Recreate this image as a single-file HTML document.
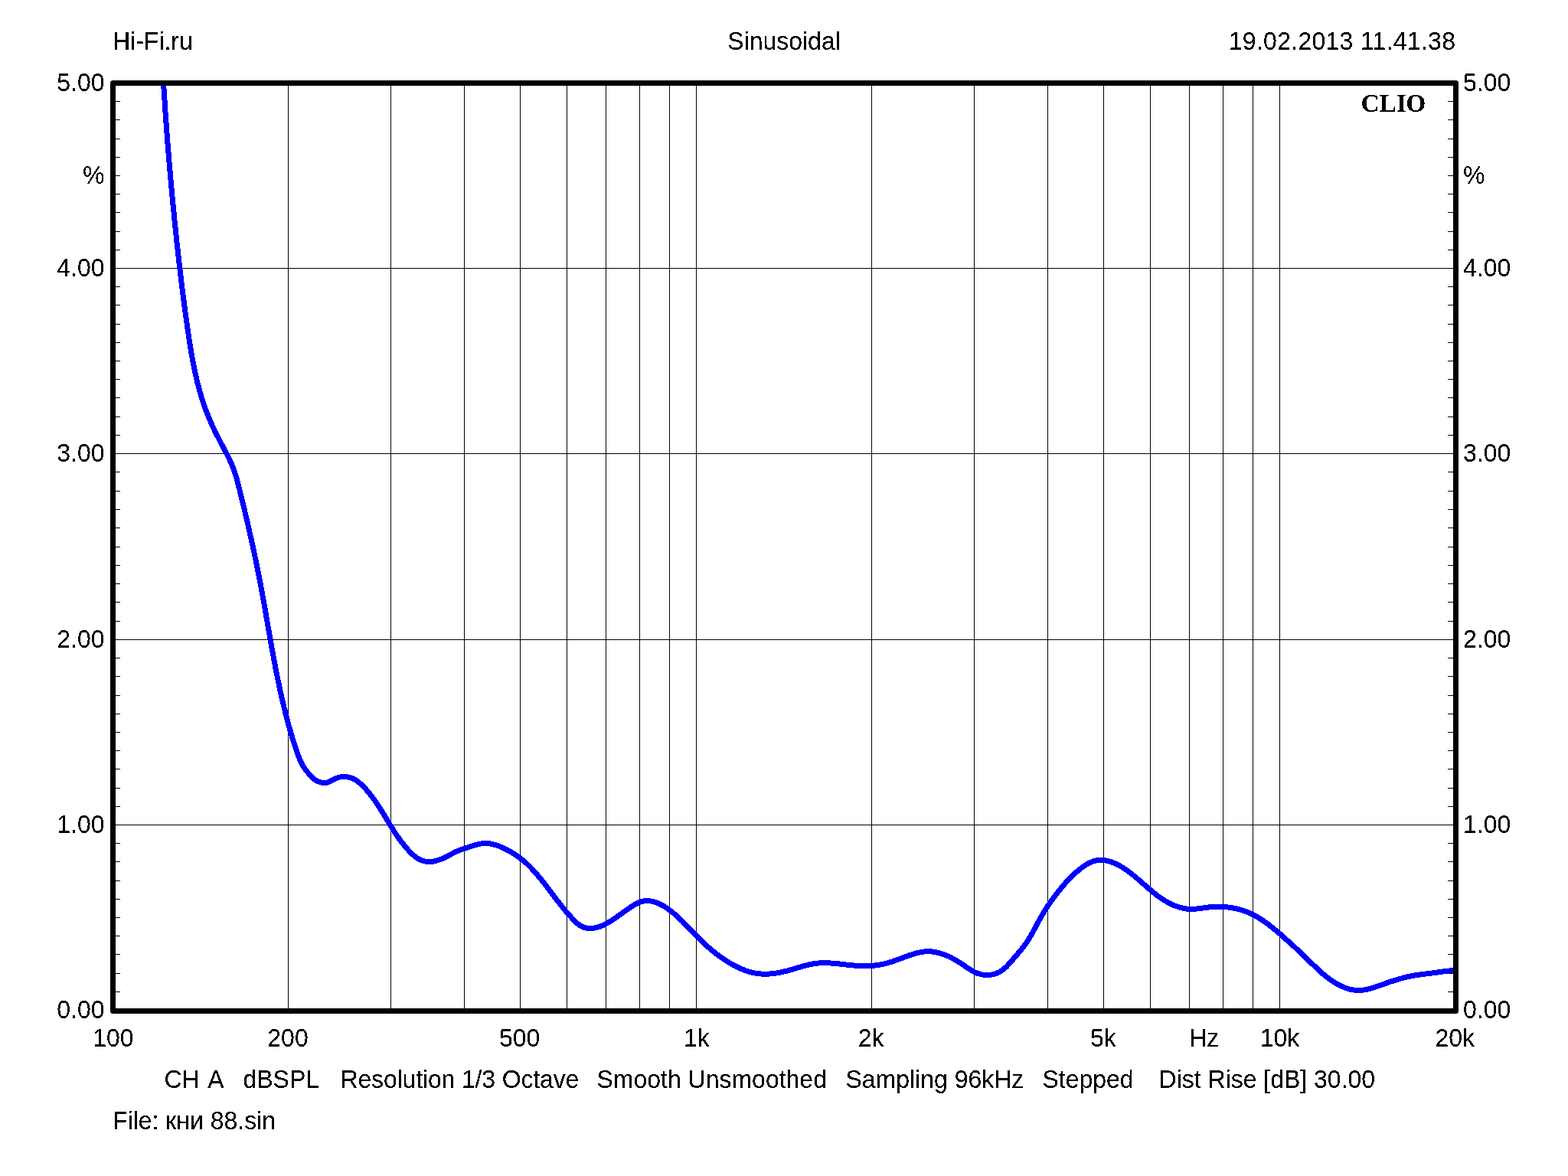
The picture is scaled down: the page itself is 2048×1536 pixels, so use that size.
<!DOCTYPE html>
<html><head><meta charset="utf-8"><title>Sinusoidal</title>
<style>html,body{margin:0;padding:0;background:#fff;width:2048px;height:1536px;overflow:hidden}svg{display:block}</style>
</head><body>
<svg width="2048" height="1536" viewBox="0 0 2048 1536">
<rect width="2048" height="1536" fill="#fff"/>
<filter id="al" x="0" y="0" width="1" height="1" color-interpolation-filters="sRGB"><feComponentTransfer><feFuncA type="discrete" tableValues="0 0 0 0 0 0 0 0 0 1 1 1 1 1 1 1 1 1 1 1"/></feComponentTransfer></filter>
<path d="M376.5,112V1317 M510.5,112V1317 M606.5,112V1317 M679.5,112V1317 M740.5,112V1317 M791.5,112V1317 M835.5,112V1317 M874.5,112V1317 M909.5,112V1317 M1138.5,112V1317 M1272.5,112V1317 M1368.5,112V1317 M1441.5,112V1317 M1502.5,112V1317 M1553.5,112V1317 M1597.5,112V1317 M1636.5,112V1317 M1671.5,112V1317 M151,1077.5H1898 M151,835.5H1898 M151,592.5H1898 M151,350.5H1898 M150,132.5H157 M1898,132.5H1891 M150,156.5H157 M1898,156.5H1891 M150,181.5H157 M1898,181.5H1891 M150,205.5H157 M1898,205.5H1891 M150,229.5H157 M1898,229.5H1891 M150,253.5H157 M1898,253.5H1891 M150,277.5H157 M1898,277.5H1891 M150,302.5H157 M1898,302.5H1891 M150,326.5H157 M1898,326.5H1891 M150,374.5H157 M1898,374.5H1891 M150,398.5H157 M1898,398.5H1891 M150,423.5H157 M1898,423.5H1891 M150,447.5H157 M1898,447.5H1891 M150,471.5H157 M1898,471.5H1891 M150,495.5H157 M1898,495.5H1891 M150,519.5H157 M1898,519.5H1891 M150,544.5H157 M1898,544.5H1891 M150,568.5H157 M1898,568.5H1891 M150,616.5H157 M1898,616.5H1891 M150,641.5H157 M1898,641.5H1891 M150,665.5H157 M1898,665.5H1891 M150,689.5H157 M1898,689.5H1891 M150,714.5H157 M1898,714.5H1891 M150,738.5H157 M1898,738.5H1891 M150,762.5H157 M1898,762.5H1891 M150,786.5H157 M1898,786.5H1891 M150,811.5H157 M1898,811.5H1891 M150,859.5H157 M1898,859.5H1891 M150,883.5H157 M1898,883.5H1891 M150,908.5H157 M1898,908.5H1891 M150,932.5H157 M1898,932.5H1891 M150,956.5H157 M1898,956.5H1891 M150,980.5H157 M1898,980.5H1891 M150,1004.5H157 M1898,1004.5H1891 M150,1029.5H157 M1898,1029.5H1891 M150,1053.5H157 M1898,1053.5H1891 M150,1101.5H157 M1898,1101.5H1891 M150,1125.5H157 M1898,1125.5H1891 M150,1150.5H157 M1898,1150.5H1891 M150,1174.5H157 M1898,1174.5H1891 M150,1198.5H157 M1898,1198.5H1891 M150,1222.5H157 M1898,1222.5H1891 M150,1246.5H157 M1898,1246.5H1891 M150,1271.5H157 M1898,1271.5H1891 M150,1295.5H157 M1898,1295.5H1891" stroke="#000" stroke-width="1" fill="none" shape-rendering="crispEdges"/>
<clipPath id="c"><rect x="151" y="112" width="1747" height="1205"/></clipPath>
<path d="M213.1,100.0 L213.2,102.0 L213.3,103.9 L213.4,105.9 L213.5,107.8 L213.6,109.8 L213.7,111.7 L213.9,113.6 L214.0,115.6 L214.1,117.5 L214.2,119.5 L214.4,121.4 L214.5,123.4 L214.6,125.3 L214.7,127.2 L214.8,129.2 L215.0,131.1 L215.1,133.1 L215.2,135.0 L215.4,137.0 L215.5,138.9 L215.6,140.9 L215.8,142.8 L215.9,144.7 L216.0,146.7 L216.2,148.6 L216.3,150.6 L216.4,152.5 L216.6,154.5 L216.7,156.4 L216.8,158.4 L217.0,160.3 L217.1,162.2 L217.3,164.2 L217.4,166.1 L217.6,168.1 L217.7,170.0 L217.8,172.0 L218.0,173.9 L218.1,175.9 L218.3,177.8 L218.4,179.8 L218.6,181.7 L218.7,183.6 L218.9,185.6 L219.0,187.5 L219.2,189.5 L219.3,191.4 L219.5,193.4 L219.7,195.3 L219.8,197.3 L220.0,199.2 L220.1,201.2 L220.3,203.1 L220.4,205.0 L220.6,207.0 L220.8,208.9 L220.9,210.9 L221.1,212.8 L221.3,214.8 L221.4,216.7 L221.6,218.7 L221.8,220.6 L221.9,222.5 L222.1,224.5 L222.3,226.4 L222.4,228.4 L222.6,230.3 L222.8,232.3 L222.9,234.2 L223.1,236.2 L223.3,238.1 L223.5,240.0 L223.6,242.0 L223.8,243.9 L224.0,245.9 L224.2,247.8 L224.4,249.8 L224.5,251.7 L224.7,253.6 L224.9,255.6 L225.1,257.5 L225.3,259.5 L225.5,261.4 L225.6,263.4 L225.8,265.3 L226.0,267.2 L226.2,269.2 L226.4,271.1 L226.6,273.1 L226.8,275.0 L227.0,276.9 L227.1,278.9 L227.3,280.8 L227.5,282.8 L227.7,284.7 L227.9,286.6 L228.1,288.6 L228.3,290.5 L228.5,292.5 L228.7,294.4 L228.9,296.3 L229.1,298.3 L229.3,300.2 L229.5,302.1 L229.7,304.1 L229.9,306.0 L230.1,308.0 L230.3,309.9 L230.5,311.8 L230.7,313.8 L230.9,315.7 L231.1,317.6 L231.4,319.6 L231.6,321.5 L231.8,323.4 L232.0,325.4 L232.2,327.3 L232.4,329.3 L232.6,331.2 L232.8,333.1 L233.1,335.1 L233.3,337.0 L233.5,338.9 L233.7,340.9 L233.9,342.8 L234.2,344.7 L234.4,346.7 L234.6,348.6 L234.8,350.5 L235.1,352.5 L235.3,354.4 L235.5,356.3 L235.7,358.3 L236.0,360.2 L236.2,362.1 L236.4,364.1 L236.7,366.0 L236.9,367.9 L237.1,369.9 L237.4,371.8 L237.6,373.7 L237.9,375.7 L238.1,377.6 L238.3,379.5 L238.6,381.5 L238.8,383.4 L239.1,385.3 L239.3,387.3 L239.6,389.2 L239.8,391.1 L240.1,393.1 L240.3,395.0 L240.6,396.9 L240.8,398.9 L241.1,400.8 L241.3,402.7 L241.6,404.7 L241.9,406.6 L242.1,408.5 L242.4,410.5 L242.7,412.4 L242.9,414.3 L243.2,416.3 L243.5,418.2 L243.7,420.1 L244.0,422.1 L244.3,424.0 L244.5,426.0 L244.8,427.9 L245.1,429.8 L245.4,431.8 L245.7,433.7 L246.0,435.6 L246.2,437.6 L246.5,439.5 L246.8,441.4 L247.1,443.4 L247.4,445.3 L247.7,447.2 L248.0,449.2 L248.3,451.1 L248.6,453.0 L248.9,455.0 L249.3,456.9 L249.6,458.8 L249.9,460.8 L250.2,462.7 L250.6,464.6 L250.9,466.5 L251.3,468.5 L251.6,470.4 L252.0,472.3 L252.4,474.2 L252.7,476.1 L253.1,478.1 L253.5,480.0 L253.9,481.9 L254.3,483.8 L254.7,485.7 L255.1,487.6 L255.5,489.5 L255.9,491.4 L256.4,493.3 L256.8,495.2 L257.3,497.1 L257.7,499.0 L258.2,500.9 L258.7,502.8 L259.2,504.6 L259.7,506.5 L260.2,508.4 L260.7,510.3 L261.2,512.1 L261.8,514.0 L262.3,515.9 L262.9,517.7 L263.4,519.6 L264.0,521.4 L264.6,523.3 L265.2,525.1 L265.8,527.0 L266.4,528.8 L267.1,530.6 L267.7,532.5 L268.4,534.3 L269.1,536.1 L269.7,537.9 L270.4,539.7 L271.2,541.6 L271.9,543.4 L272.6,545.2 L273.4,546.9 L274.1,548.7 L274.9,550.5 L275.7,552.3 L276.5,554.1 L277.3,555.9 L278.1,557.6 L279.0,559.4 L279.8,561.1 L280.6,562.9 L281.5,564.7 L282.4,566.4 L283.2,568.2 L284.1,569.9 L285.0,571.6 L285.9,573.4 L286.8,575.1 L287.7,576.9 L288.6,578.6 L289.5,580.3 L290.4,582.0 L291.4,583.8 L292.3,585.5 L293.2,587.2 L294.1,588.9 L295.0,590.7 L295.9,592.4 L296.8,594.1 L297.7,595.9 L298.6,597.6 L299.4,599.3 L300.2,601.1 L301.1,602.9 L301.8,604.6 L302.6,606.4 L303.3,608.2 L304.0,610.0 L304.7,611.8 L305.4,613.7 L306.0,615.5 L306.7,617.3 L307.3,619.2 L307.8,621.0 L308.4,622.9 L309.0,624.8 L309.5,626.7 L310.0,628.5 L310.5,630.4 L311.0,632.3 L311.5,634.2 L312.0,636.1 L312.5,638.0 L313.0,639.9 L313.4,641.8 L313.9,643.7 L314.4,645.6 L314.8,647.5 L315.3,649.4 L315.8,651.3 L316.2,653.2 L316.7,655.1 L317.1,657.0 L317.6,658.9 L318.0,660.8 L318.5,662.7 L319.0,664.6 L319.4,666.5 L319.9,668.4 L320.3,670.3 L320.8,672.2 L321.2,674.1 L321.6,676.0 L322.1,677.9 L322.5,679.8 L323.0,681.7 L323.4,683.6 L323.9,685.5 L324.3,687.4 L324.7,689.3 L325.2,691.2 L325.6,693.1 L326.0,695.0 L326.5,696.9 L326.9,698.8 L327.3,700.7 L327.8,702.6 L328.2,704.5 L328.6,706.4 L329.0,708.3 L329.4,710.2 L329.9,712.1 L330.3,714.0 L330.7,715.9 L331.1,717.8 L331.5,719.7 L331.9,721.6 L332.3,723.5 L332.7,725.4 L333.1,727.3 L333.5,729.2 L333.9,731.1 L334.3,733.0 L334.7,734.9 L335.1,736.8 L335.5,738.7 L335.9,740.7 L336.3,742.6 L336.7,744.5 L337.0,746.4 L337.4,748.3 L337.8,750.2 L338.2,752.1 L338.5,754.0 L338.9,755.9 L339.3,757.8 L339.6,759.8 L340.0,761.7 L340.4,763.6 L340.7,765.5 L341.1,767.4 L341.4,769.3 L341.8,771.3 L342.1,773.2 L342.5,775.1 L342.8,777.0 L343.2,778.9 L343.5,780.9 L343.9,782.8 L344.2,784.7 L344.6,786.6 L344.9,788.5 L345.2,790.5 L345.6,792.4 L345.9,794.3 L346.3,796.2 L346.6,798.1 L346.9,800.1 L347.3,802.0 L347.6,803.9 L347.9,805.8 L348.3,807.8 L348.6,809.7 L348.9,811.6 L349.3,813.5 L349.6,815.4 L349.9,817.4 L350.3,819.3 L350.6,821.2 L350.9,823.1 L351.3,825.1 L351.6,827.0 L352.0,828.9 L352.3,830.8 L352.6,832.8 L353.0,834.7 L353.3,836.6 L353.6,838.5 L354.0,840.4 L354.3,842.4 L354.7,844.3 L355.0,846.2 L355.4,848.1 L355.7,850.1 L356.1,852.0 L356.4,853.9 L356.8,855.8 L357.1,857.7 L357.5,859.7 L357.8,861.6 L358.2,863.5 L358.6,865.4 L358.9,867.3 L359.3,869.2 L359.6,871.2 L360.0,873.1 L360.4,875.0 L360.8,876.9 L361.1,878.8 L361.5,880.7 L361.9,882.6 L362.3,884.5 L362.7,886.5 L363.1,888.4 L363.5,890.3 L363.9,892.2 L364.3,894.1 L364.7,896.0 L365.1,897.9 L365.5,899.8 L365.9,901.7 L366.3,903.6 L366.7,905.5 L367.2,907.4 L367.6,909.3 L368.0,911.2 L368.4,913.1 L368.9,915.0 L369.3,916.9 L369.8,918.8 L370.2,920.7 L370.7,922.6 L371.1,924.5 L371.6,926.4 L372.1,928.3 L372.6,930.2 L373.0,932.1 L373.5,933.9 L374.0,935.8 L374.5,937.7 L375.0,939.6 L375.5,941.5 L376.0,943.4 L376.5,945.2 L377.0,947.1 L377.6,949.0 L378.1,950.9 L378.6,952.7 L379.2,954.6 L379.7,956.5 L380.3,958.4 L380.8,960.2 L381.4,962.1 L382.0,964.0 L382.5,965.8 L383.1,967.7 L383.7,969.6 L384.3,971.4 L384.9,973.3 L385.5,975.1 L386.1,977.0 L386.7,978.8 L387.4,980.7 L388.0,982.5 L388.6,984.4 L389.3,986.2 L390.0,988.0 L390.7,989.9 L391.4,991.7 L392.2,993.4 L393.0,995.2 L393.9,996.9 L394.8,998.6 L395.7,1000.3 L396.7,1002.0 L397.8,1003.6 L399.0,1005.2 L400.2,1006.7 L401.4,1008.3 L402.7,1009.8 L404.0,1011.3 L405.4,1012.8 L406.8,1014.3 L408.2,1015.8 L409.8,1017.1 L411.3,1018.3 L413.0,1019.4 L414.7,1020.4 L416.5,1021.1 L418.3,1021.8 L420.1,1022.2 L422.0,1022.4 L423.9,1022.5 L425.8,1022.3 L427.7,1021.9 L429.5,1021.3 L431.4,1020.5 L433.2,1019.5 L435.0,1018.5 L436.9,1017.5 L438.7,1016.6 L440.6,1015.9 L442.5,1015.3 L444.4,1014.9 L446.3,1014.6 L448.2,1014.4 L450.1,1014.4 L452.0,1014.5 L453.8,1014.8 L455.7,1015.2 L457.5,1015.7 L459.3,1016.3 L461.0,1017.0 L462.7,1017.9 L464.3,1018.8 L466.0,1019.9 L467.5,1021.0 L469.1,1022.2 L470.6,1023.5 L472.1,1024.8 L473.5,1026.2 L475.0,1027.6 L476.3,1029.1 L477.7,1030.6 L479.0,1032.1 L480.3,1033.6 L481.6,1035.2 L482.9,1036.8 L484.1,1038.3 L485.3,1039.9 L486.5,1041.5 L487.7,1043.1 L488.8,1044.7 L490.0,1046.3 L491.1,1047.9 L492.2,1049.5 L493.3,1051.2 L494.3,1052.8 L495.4,1054.4 L496.4,1056.1 L497.5,1057.7 L498.5,1059.3 L499.5,1061.0 L500.5,1062.6 L501.6,1064.3 L502.6,1065.9 L503.6,1067.6 L504.6,1069.2 L505.6,1070.9 L506.6,1072.5 L507.6,1074.2 L508.6,1075.8 L509.6,1077.5 L510.6,1079.1 L511.6,1080.8 L512.6,1082.4 L513.6,1084.0 L514.7,1085.6 L515.7,1087.3 L516.8,1088.9 L517.9,1090.5 L519.0,1092.1 L520.1,1093.7 L521.2,1095.3 L522.3,1096.9 L523.5,1098.4 L524.7,1100.0 L525.9,1101.5 L527.1,1103.1 L528.3,1104.6 L529.6,1106.1 L530.9,1107.6 L532.2,1109.1 L533.5,1110.6 L534.9,1112.1 L536.3,1113.5 L537.7,1114.9 L539.2,1116.3 L540.7,1117.6 L542.2,1118.8 L543.8,1120.0 L545.4,1121.1 L547.0,1122.0 L548.7,1122.9 L550.4,1123.7 L552.2,1124.3 L554.0,1124.8 L555.8,1125.2 L557.7,1125.5 L559.6,1125.6 L561.5,1125.5 L563.5,1125.4 L565.5,1125.2 L567.4,1124.8 L569.4,1124.4 L571.3,1123.8 L573.3,1123.2 L575.2,1122.6 L577.1,1121.9 L578.9,1121.1 L580.8,1120.3 L582.5,1119.4 L584.2,1118.5 L585.9,1117.6 L587.5,1116.7 L589.0,1115.8 L590.6,1114.9 L592.2,1114.1 L593.8,1113.2 L595.5,1112.4 L597.3,1111.7 L599.1,1111.0 L600.9,1110.3 L602.8,1109.6 L604.7,1109.0 L606.6,1108.3 L608.5,1107.6 L610.4,1107.0 L612.3,1106.3 L614.2,1105.7 L616.1,1105.0 L618.0,1104.4 L619.9,1103.9 L621.8,1103.3 L623.7,1102.9 L625.6,1102.5 L627.5,1102.1 L629.4,1101.8 L631.3,1101.7 L633.2,1101.6 L635.1,1101.6 L637.0,1101.7 L638.9,1101.8 L640.9,1102.1 L642.8,1102.5 L644.7,1103.0 L646.6,1103.5 L648.5,1104.1 L650.3,1104.7 L652.2,1105.4 L654.1,1106.2 L655.9,1107.0 L657.7,1107.8 L659.5,1108.7 L661.3,1109.5 L663.0,1110.4 L664.8,1111.4 L666.5,1112.3 L668.1,1113.3 L669.8,1114.3 L671.4,1115.3 L673.1,1116.4 L674.7,1117.5 L676.2,1118.6 L677.8,1119.7 L679.3,1120.8 L680.8,1122.0 L682.3,1123.2 L683.8,1124.4 L685.3,1125.7 L686.7,1126.9 L688.2,1128.2 L689.6,1129.6 L691.0,1130.9 L692.3,1132.3 L693.7,1133.7 L695.0,1135.1 L696.4,1136.5 L697.7,1137.9 L699.0,1139.4 L700.3,1140.9 L701.6,1142.4 L702.9,1143.9 L704.1,1145.4 L705.4,1146.9 L706.6,1148.4 L707.8,1150.0 L709.1,1151.5 L710.3,1153.1 L711.5,1154.6 L712.7,1156.2 L713.9,1157.8 L715.1,1159.3 L716.3,1160.9 L717.4,1162.5 L718.6,1164.0 L719.8,1165.6 L721.0,1167.1 L722.1,1168.7 L723.3,1170.2 L724.5,1171.8 L725.6,1173.3 L726.8,1174.8 L728.0,1176.4 L729.2,1177.9 L730.4,1179.4 L731.6,1180.9 L732.8,1182.5 L734.0,1184.0 L735.2,1185.5 L736.4,1187.0 L737.7,1188.5 L738.9,1190.0 L740.2,1191.4 L741.4,1192.9 L742.7,1194.4 L744.0,1195.9 L745.4,1197.3 L746.7,1198.8 L748.1,1200.3 L749.4,1201.7 L750.8,1203.1 L752.3,1204.5 L753.7,1205.8 L755.2,1207.0 L756.8,1208.2 L758.4,1209.2 L760.1,1210.1 L761.8,1210.9 L763.6,1211.6 L765.4,1212.1 L767.4,1212.4 L769.3,1212.6 L771.3,1212.6 L773.3,1212.4 L775.3,1212.2 L777.3,1211.9 L779.2,1211.5 L781.1,1210.9 L782.9,1210.4 L784.8,1209.7 L786.6,1209.0 L788.4,1208.2 L790.1,1207.3 L791.8,1206.4 L793.6,1205.5 L795.2,1204.5 L796.9,1203.5 L798.6,1202.4 L800.2,1201.4 L801.8,1200.3 L803.4,1199.2 L804.9,1198.1 L806.5,1197.0 L808.0,1195.9 L809.6,1194.8 L811.1,1193.7 L812.7,1192.6 L814.3,1191.5 L815.8,1190.4 L817.4,1189.2 L819.0,1188.1 L820.7,1187.0 L822.3,1185.8 L824.0,1184.7 L825.7,1183.6 L827.5,1182.5 L829.2,1181.4 L831.0,1180.4 L832.9,1179.5 L834.7,1178.6 L836.5,1178.0 L838.4,1177.4 L840.2,1177.0 L842.1,1176.7 L844.0,1176.6 L845.8,1176.6 L847.7,1176.7 L849.5,1176.9 L851.4,1177.2 L853.2,1177.6 L855.1,1178.1 L856.9,1178.8 L858.7,1179.5 L860.5,1180.2 L862.3,1181.1 L864.1,1182.0 L865.8,1182.9 L867.6,1184.0 L869.3,1185.1 L871.0,1186.2 L872.6,1187.3 L874.3,1188.5 L875.9,1189.7 L877.5,1191.0 L879.0,1192.2 L880.6,1193.5 L882.1,1194.8 L883.6,1196.1 L885.0,1197.4 L886.5,1198.7 L887.9,1200.0 L889.3,1201.4 L890.7,1202.7 L892.0,1204.1 L893.4,1205.5 L894.8,1206.9 L896.1,1208.3 L897.4,1209.7 L898.8,1211.1 L900.1,1212.5 L901.4,1213.9 L902.8,1215.3 L904.1,1216.7 L905.4,1218.0 L906.7,1219.4 L908.1,1220.8 L909.4,1222.2 L910.8,1223.6 L912.1,1225.0 L913.5,1226.3 L914.9,1227.7 L916.3,1229.0 L917.7,1230.4 L919.1,1231.7 L920.5,1233.0 L921.9,1234.3 L923.4,1235.6 L924.8,1236.9 L926.3,1238.2 L927.8,1239.5 L929.3,1240.7 L930.8,1242.0 L932.3,1243.2 L933.8,1244.4 L935.3,1245.6 L936.9,1246.8 L938.5,1248.0 L940.0,1249.2 L941.6,1250.3 L943.2,1251.4 L944.9,1252.5 L946.5,1253.6 L948.1,1254.7 L949.8,1255.8 L951.5,1256.8 L953.2,1257.8 L954.9,1258.8 L956.6,1259.8 L958.4,1260.7 L960.1,1261.7 L961.9,1262.6 L963.7,1263.4 L965.5,1264.3 L967.3,1265.1 L969.1,1265.9 L970.9,1266.6 L972.7,1267.3 L974.6,1267.9 L976.4,1268.6 L978.3,1269.1 L980.2,1269.7 L982.0,1270.1 L983.9,1270.6 L985.8,1271.0 L987.7,1271.3 L989.6,1271.6 L991.5,1271.8 L993.4,1272.0 L995.4,1272.1 L997.3,1272.2 L999.2,1272.2 L1001.1,1272.2 L1003.1,1272.1 L1005.0,1272.0 L1006.9,1271.8 L1008.8,1271.7 L1010.8,1271.4 L1012.7,1271.2 L1014.6,1270.9 L1016.6,1270.5 L1018.5,1270.2 L1020.4,1269.8 L1022.3,1269.4 L1024.3,1268.9 L1026.2,1268.5 L1028.1,1268.0 L1030.0,1267.5 L1031.9,1267.0 L1033.8,1266.4 L1035.7,1265.9 L1037.5,1265.3 L1039.4,1264.8 L1041.3,1264.2 L1043.1,1263.7 L1045.0,1263.1 L1046.8,1262.6 L1048.7,1262.0 L1050.5,1261.5 L1052.4,1261.0 L1054.3,1260.5 L1056.1,1260.1 L1058.0,1259.6 L1059.9,1259.3 L1061.8,1258.9 L1063.7,1258.6 L1065.6,1258.3 L1067.6,1258.1 L1069.5,1258.0 L1071.5,1257.8 L1073.4,1257.7 L1075.4,1257.7 L1077.4,1257.7 L1079.3,1257.7 L1081.3,1257.8 L1083.3,1257.9 L1085.3,1258.0 L1087.2,1258.1 L1089.2,1258.3 L1091.1,1258.4 L1093.1,1258.6 L1095.1,1258.8 L1097.0,1259.1 L1099.0,1259.3 L1100.9,1259.5 L1102.9,1259.7 L1104.8,1260.0 L1106.8,1260.2 L1108.7,1260.4 L1110.7,1260.6 L1112.6,1260.8 L1114.6,1261.0 L1116.5,1261.2 L1118.4,1261.3 L1120.4,1261.5 L1122.3,1261.6 L1124.2,1261.7 L1126.2,1261.7 L1128.1,1261.7 L1130.0,1261.7 L1131.9,1261.7 L1133.8,1261.7 L1135.8,1261.6 L1137.7,1261.5 L1139.6,1261.3 L1141.5,1261.1 L1143.4,1260.9 L1145.3,1260.7 L1147.2,1260.4 L1149.1,1260.1 L1151.0,1259.8 L1152.9,1259.4 L1154.8,1259.0 L1156.7,1258.5 L1158.6,1258.0 L1160.4,1257.5 L1162.3,1256.9 L1164.2,1256.3 L1166.1,1255.7 L1168.0,1255.0 L1169.8,1254.4 L1171.7,1253.7 L1173.6,1253.0 L1175.4,1252.3 L1177.3,1251.6 L1179.2,1250.9 L1181.1,1250.2 L1182.9,1249.5 L1184.8,1248.8 L1186.7,1248.1 L1188.5,1247.5 L1190.4,1246.9 L1192.3,1246.3 L1194.1,1245.7 L1196.0,1245.2 L1197.9,1244.7 L1199.7,1244.3 L1201.6,1243.9 L1203.5,1243.5 L1205.3,1243.2 L1207.2,1243.0 L1209.1,1242.9 L1211.0,1242.8 L1212.9,1242.7 L1214.8,1242.8 L1216.6,1242.9 L1218.5,1243.1 L1220.4,1243.4 L1222.3,1243.7 L1224.2,1244.1 L1226.1,1244.6 L1227.9,1245.1 L1229.8,1245.7 L1231.7,1246.3 L1233.5,1247.0 L1235.4,1247.7 L1237.2,1248.5 L1239.1,1249.3 L1240.9,1250.1 L1242.7,1251.0 L1244.5,1252.0 L1246.2,1252.9 L1248.0,1253.9 L1249.8,1255.0 L1251.5,1256.0 L1253.2,1257.1 L1254.9,1258.2 L1256.6,1259.3 L1258.2,1260.4 L1259.9,1261.5 L1261.5,1262.7 L1263.1,1263.8 L1264.7,1264.9 L1266.4,1265.9 L1268.0,1266.9 L1269.7,1267.9 L1271.3,1268.8 L1273.0,1269.7 L1274.8,1270.5 L1276.5,1271.2 L1278.3,1271.8 L1280.1,1272.3 L1281.9,1272.8 L1283.8,1273.1 L1285.7,1273.3 L1287.7,1273.5 L1289.6,1273.5 L1291.6,1273.4 L1293.6,1273.2 L1295.5,1272.9 L1297.4,1272.5 L1299.3,1272.0 L1301.2,1271.4 L1303.0,1270.6 L1304.8,1269.8 L1306.5,1268.9 L1308.1,1267.9 L1309.7,1266.8 L1311.2,1265.6 L1312.6,1264.3 L1314.1,1263.0 L1315.5,1261.6 L1316.8,1260.1 L1318.1,1258.7 L1319.5,1257.2 L1320.8,1255.7 L1322.1,1254.2 L1323.3,1252.7 L1324.6,1251.2 L1325.9,1249.7 L1327.2,1248.2 L1328.5,1246.7 L1329.8,1245.2 L1331.0,1243.7 L1332.3,1242.2 L1333.5,1240.7 L1334.8,1239.2 L1336.0,1237.6 L1337.1,1236.1 L1338.3,1234.5 L1339.4,1233.0 L1340.5,1231.4 L1341.6,1229.8 L1342.6,1228.2 L1343.7,1226.5 L1344.7,1224.9 L1345.7,1223.2 L1346.7,1221.6 L1347.6,1219.9 L1348.6,1218.2 L1349.5,1216.5 L1350.4,1214.8 L1351.3,1213.1 L1352.3,1211.4 L1353.2,1209.7 L1354.1,1208.0 L1355.0,1206.2 L1355.9,1204.5 L1356.9,1202.8 L1357.8,1201.1 L1358.7,1199.4 L1359.7,1197.7 L1360.7,1196.0 L1361.7,1194.3 L1362.7,1192.6 L1363.7,1190.9 L1364.7,1189.2 L1365.8,1187.5 L1366.8,1185.9 L1367.9,1184.2 L1369.0,1182.6 L1370.1,1180.9 L1371.3,1179.3 L1372.4,1177.7 L1373.5,1176.1 L1374.7,1174.5 L1375.8,1172.9 L1377.0,1171.4 L1378.2,1169.8 L1379.4,1168.3 L1380.5,1166.7 L1381.7,1165.2 L1382.9,1163.7 L1384.1,1162.2 L1385.3,1160.7 L1386.5,1159.3 L1387.7,1157.8 L1389.0,1156.4 L1390.2,1155.0 L1391.4,1153.5 L1392.7,1152.1 L1394.0,1150.7 L1395.3,1149.3 L1396.6,1147.9 L1398.0,1146.6 L1399.3,1145.2 L1400.7,1143.8 L1402.2,1142.5 L1403.6,1141.1 L1405.1,1139.7 L1406.6,1138.4 L1408.2,1137.1 L1409.8,1135.8 L1411.4,1134.5 L1413.0,1133.2 L1414.7,1132.0 L1416.4,1130.9 L1418.1,1129.8 L1419.8,1128.7 L1421.6,1127.8 L1423.4,1126.9 L1425.1,1126.1 L1427.0,1125.3 L1428.8,1124.7 L1430.6,1124.2 L1432.5,1123.8 L1434.3,1123.5 L1436.2,1123.4 L1438.1,1123.3 L1439.9,1123.4 L1441.8,1123.6 L1443.7,1123.8 L1445.6,1124.2 L1447.5,1124.6 L1449.3,1125.1 L1451.2,1125.7 L1453.0,1126.4 L1454.9,1127.2 L1456.7,1127.9 L1458.5,1128.8 L1460.3,1129.7 L1462.0,1130.6 L1463.8,1131.6 L1465.5,1132.6 L1467.2,1133.7 L1468.8,1134.7 L1470.4,1135.8 L1472.1,1136.9 L1473.7,1138.1 L1475.2,1139.2 L1476.8,1140.4 L1478.3,1141.6 L1479.8,1142.8 L1481.3,1144.1 L1482.8,1145.3 L1484.3,1146.5 L1485.8,1147.8 L1487.3,1149.1 L1488.7,1150.4 L1490.2,1151.6 L1491.7,1152.9 L1493.1,1154.2 L1494.6,1155.5 L1496.0,1156.8 L1497.5,1158.1 L1498.9,1159.3 L1500.4,1160.6 L1501.9,1161.9 L1503.4,1163.1 L1504.9,1164.4 L1506.4,1165.6 L1507.9,1166.8 L1509.4,1168.1 L1510.9,1169.2 L1512.5,1170.4 L1514.1,1171.6 L1515.7,1172.7 L1517.3,1173.8 L1519.0,1174.9 L1520.6,1175.9 L1522.3,1176.9 L1524.0,1177.9 L1525.7,1178.9 L1527.5,1179.8 L1529.2,1180.7 L1531.0,1181.5 L1532.8,1182.3 L1534.6,1183.0 L1536.4,1183.7 L1538.3,1184.4 L1540.1,1184.9 L1542.0,1185.5 L1543.9,1185.9 L1545.7,1186.3 L1547.6,1186.7 L1549.5,1187.0 L1551.4,1187.2 L1553.4,1187.3 L1555.3,1187.3 L1557.2,1187.3 L1559.2,1187.3 L1561.1,1187.1 L1563.0,1187.0 L1565.0,1186.8 L1566.9,1186.5 L1568.9,1186.3 L1570.9,1186.0 L1572.8,1185.8 L1574.8,1185.5 L1576.7,1185.2 L1578.7,1185.0 L1580.7,1184.8 L1582.6,1184.6 L1584.6,1184.5 L1586.6,1184.4 L1588.5,1184.3 L1590.5,1184.3 L1592.5,1184.3 L1594.4,1184.3 L1596.4,1184.4 L1598.3,1184.5 L1600.3,1184.7 L1602.2,1184.8 L1604.1,1185.0 L1606.1,1185.3 L1608.0,1185.6 L1609.9,1185.9 L1611.8,1186.2 L1613.7,1186.6 L1615.6,1187.1 L1617.5,1187.5 L1619.3,1188.0 L1621.2,1188.5 L1623.0,1189.1 L1624.8,1189.7 L1626.7,1190.4 L1628.5,1191.1 L1630.3,1191.8 L1632.0,1192.5 L1633.8,1193.3 L1635.5,1194.2 L1637.3,1195.0 L1639.0,1195.9 L1640.7,1196.9 L1642.4,1197.8 L1644.0,1198.8 L1645.7,1199.9 L1647.4,1200.9 L1649.0,1202.0 L1650.6,1203.1 L1652.2,1204.2 L1653.8,1205.3 L1655.4,1206.5 L1657.0,1207.7 L1658.6,1208.9 L1660.1,1210.1 L1661.7,1211.3 L1663.2,1212.6 L1664.7,1213.8 L1666.3,1215.1 L1667.8,1216.4 L1669.3,1217.6 L1670.8,1218.9 L1672.3,1220.2 L1673.7,1221.5 L1675.2,1222.8 L1676.7,1224.1 L1678.1,1225.4 L1679.6,1226.7 L1681.0,1228.0 L1682.5,1229.3 L1683.9,1230.6 L1685.4,1231.9 L1686.8,1233.2 L1688.2,1234.5 L1689.6,1235.8 L1691.1,1237.1 L1692.5,1238.5 L1693.9,1239.8 L1695.3,1241.1 L1696.7,1242.4 L1698.1,1243.8 L1699.5,1245.1 L1700.9,1246.4 L1702.3,1247.8 L1703.7,1249.1 L1705.1,1250.5 L1706.5,1251.8 L1707.9,1253.2 L1709.3,1254.5 L1710.7,1255.9 L1712.1,1257.2 L1713.5,1258.6 L1714.9,1259.9 L1716.3,1261.3 L1717.7,1262.6 L1719.1,1264.0 L1720.5,1265.3 L1721.9,1266.7 L1723.4,1268.0 L1724.8,1269.3 L1726.3,1270.6 L1727.8,1271.9 L1729.3,1273.1 L1730.8,1274.4 L1732.3,1275.6 L1733.8,1276.8 L1735.4,1278.0 L1737.0,1279.1 L1738.6,1280.3 L1740.2,1281.4 L1741.9,1282.4 L1743.6,1283.5 L1745.3,1284.5 L1747.0,1285.5 L1748.7,1286.4 L1750.5,1287.3 L1752.3,1288.1 L1754.1,1288.9 L1755.9,1289.7 L1757.7,1290.4 L1759.6,1291.0 L1761.4,1291.6 L1763.3,1292.1 L1765.2,1292.5 L1767.1,1292.9 L1769.0,1293.1 L1770.9,1293.3 L1772.8,1293.5 L1774.7,1293.5 L1776.6,1293.5 L1778.5,1293.3 L1780.4,1293.1 L1782.3,1292.9 L1784.2,1292.5 L1786.1,1292.1 L1788.0,1291.7 L1789.9,1291.2 L1791.8,1290.6 L1793.7,1290.0 L1795.6,1289.4 L1797.5,1288.8 L1799.4,1288.1 L1801.2,1287.5 L1803.1,1286.8 L1805.0,1286.1 L1806.8,1285.5 L1808.7,1284.8 L1810.5,1284.2 L1812.4,1283.5 L1814.2,1282.9 L1816.0,1282.3 L1817.9,1281.7 L1819.7,1281.1 L1821.5,1280.5 L1823.4,1279.9 L1825.2,1279.3 L1827.1,1278.8 L1828.9,1278.3 L1830.8,1277.8 L1832.6,1277.3 L1834.5,1276.8 L1836.4,1276.3 L1838.3,1275.9 L1840.2,1275.5 L1842.1,1275.1 L1844.0,1274.7 L1845.9,1274.4 L1847.8,1274.0 L1849.8,1273.7 L1851.7,1273.4 L1853.7,1273.1 L1855.6,1272.8 L1857.6,1272.6 L1859.5,1272.3 L1861.5,1272.1 L1863.4,1271.8 L1865.4,1271.6 L1867.3,1271.3 L1869.2,1271.1 L1871.2,1270.8 L1873.1,1270.6 L1875.1,1270.3 L1877.0,1270.1 L1878.9,1269.8 L1880.8,1269.5 L1882.8,1269.3 L1884.7,1269.0 L1886.6,1268.8 L1888.5,1268.5 L1890.4,1268.3 L1892.4,1268.1 L1894.3,1267.9 L1896.2,1267.7 L1898.2,1267.5 L1900.1,1267.3 L1902.1,1267.2 L1904.0,1267.0 L1906.0,1266.9" clip-path="url(#c)" stroke="#0000ff" stroke-width="7" fill="none" stroke-linejoin="round" stroke-linecap="round" shape-rendering="crispEdges"/>
<rect x="147.5" y="108.5" width="1754" height="1212" fill="none" stroke="#000" stroke-width="7" stroke-linejoin="round"/>
<g filter="url(#al)">
<text transform="translate(147.00,65.00) scale(1,1.04)" font-family="'Liberation Sans', Arial, 'DejaVu Sans', sans-serif" font-size="32" fill="#000" >Hi-Fi.ru</text>
<text transform="translate(1024.00,65.00) scale(1,1.04)" font-family="'Liberation Sans', Arial, 'DejaVu Sans', sans-serif" font-size="32" fill="#000" text-anchor="middle">Sinusoidal</text>
<text transform="translate(1604.77,65.00) scale(1,1.04)" font-family="'Liberation Sans', Arial, 'DejaVu Sans', sans-serif" font-size="32" fill="#000" textLength="296.23" lengthAdjust="spacing">19.02.2013 11.41.38</text>
<text transform="translate(136.50,1330.00) scale(1,1.04)" font-family="'Liberation Sans', Arial, 'DejaVu Sans', sans-serif" font-size="32" fill="#000" text-anchor="end">0.00</text>
<text transform="translate(1911.00,1330.00) scale(1,1.04)" font-family="'Liberation Sans', Arial, 'DejaVu Sans', sans-serif" font-size="32" fill="#000" >0.00</text>
<text transform="translate(136.50,1088.00) scale(1,1.04)" font-family="'Liberation Sans', Arial, 'DejaVu Sans', sans-serif" font-size="32" fill="#000" text-anchor="end">1.00</text>
<text transform="translate(1911.00,1088.00) scale(1,1.04)" font-family="'Liberation Sans', Arial, 'DejaVu Sans', sans-serif" font-size="32" fill="#000" >1.00</text>
<text transform="translate(136.50,846.00) scale(1,1.04)" font-family="'Liberation Sans', Arial, 'DejaVu Sans', sans-serif" font-size="32" fill="#000" text-anchor="end">2.00</text>
<text transform="translate(1911.00,846.00) scale(1,1.04)" font-family="'Liberation Sans', Arial, 'DejaVu Sans', sans-serif" font-size="32" fill="#000" >2.00</text>
<text transform="translate(136.50,603.00) scale(1,1.04)" font-family="'Liberation Sans', Arial, 'DejaVu Sans', sans-serif" font-size="32" fill="#000" text-anchor="end">3.00</text>
<text transform="translate(1911.00,603.00) scale(1,1.04)" font-family="'Liberation Sans', Arial, 'DejaVu Sans', sans-serif" font-size="32" fill="#000" >3.00</text>
<text transform="translate(136.50,361.00) scale(1,1.04)" font-family="'Liberation Sans', Arial, 'DejaVu Sans', sans-serif" font-size="32" fill="#000" text-anchor="end">4.00</text>
<text transform="translate(1911.00,361.00) scale(1,1.04)" font-family="'Liberation Sans', Arial, 'DejaVu Sans', sans-serif" font-size="32" fill="#000" >4.00</text>
<text transform="translate(136.50,119.00) scale(1,1.04)" font-family="'Liberation Sans', Arial, 'DejaVu Sans', sans-serif" font-size="32" fill="#000" text-anchor="end">5.00</text>
<text transform="translate(1911.00,119.00) scale(1,1.04)" font-family="'Liberation Sans', Arial, 'DejaVu Sans', sans-serif" font-size="32" fill="#000" >5.00</text>
<text transform="translate(136.50,240.20) scale(1,1.04)" font-family="'Liberation Sans', Arial, 'DejaVu Sans', sans-serif" font-size="32" fill="#000" text-anchor="end">%</text>
<text transform="translate(1911.00,240.20) scale(1,1.04)" font-family="'Liberation Sans', Arial, 'DejaVu Sans', sans-serif" font-size="32" fill="#000" >%</text>
<text transform="translate(147.85,1367.00) scale(1,1.04)" font-family="'Liberation Sans', Arial, 'DejaVu Sans', sans-serif" font-size="32" fill="#000" text-anchor="middle">100</text>
<text transform="translate(376.00,1367.00) scale(1,1.04)" font-family="'Liberation Sans', Arial, 'DejaVu Sans', sans-serif" font-size="32" fill="#000" text-anchor="middle">200</text>
<text transform="translate(678.60,1367.00) scale(1,1.04)" font-family="'Liberation Sans', Arial, 'DejaVu Sans', sans-serif" font-size="32" fill="#000" text-anchor="middle">500</text>
<text transform="translate(909.80,1367.00) scale(1,1.04)" font-family="'Liberation Sans', Arial, 'DejaVu Sans', sans-serif" font-size="32" fill="#000" text-anchor="middle">1k</text>
<text transform="translate(1137.70,1367.00) scale(1,1.04)" font-family="'Liberation Sans', Arial, 'DejaVu Sans', sans-serif" font-size="32" fill="#000" text-anchor="middle">2k</text>
<text transform="translate(1440.90,1367.00) scale(1,1.04)" font-family="'Liberation Sans', Arial, 'DejaVu Sans', sans-serif" font-size="32" fill="#000" text-anchor="middle">5k</text>
<text transform="translate(1572.70,1367.00) scale(1,1.04)" font-family="'Liberation Sans', Arial, 'DejaVu Sans', sans-serif" font-size="32" fill="#000" text-anchor="middle">Hz</text>
<text transform="translate(1671.50,1367.00) scale(1,1.04)" font-family="'Liberation Sans', Arial, 'DejaVu Sans', sans-serif" font-size="32" fill="#000" text-anchor="middle">10k</text>
<text transform="translate(1900.20,1367.00) scale(1,1.04)" font-family="'Liberation Sans', Arial, 'DejaVu Sans', sans-serif" font-size="32" fill="#000" text-anchor="middle">20k</text>
<text transform="translate(214.50,1421.00) scale(1,1.04)" font-family="'Liberation Sans', Arial, 'DejaVu Sans', sans-serif" font-size="32" fill="#000" >CH<tspan dx="3.5"> A</tspan></text>
<text transform="translate(444.50,1421.00) scale(1,1.04)" font-family="'Liberation Sans', Arial, 'DejaVu Sans', sans-serif" font-size="32" fill="#000" textLength="311.84" lengthAdjust="spacing">Resolution 1/3 Octave</text>
<text transform="translate(317.50,1421.00) scale(1,1.04)" font-family="'Liberation Sans', Arial, 'DejaVu Sans', sans-serif" font-size="32" fill="#000" >dBSPL</text>
<text transform="translate(779.50,1421.00) scale(1,1.04)" font-family="'Liberation Sans', Arial, 'DejaVu Sans', sans-serif" font-size="32" fill="#000" >Smooth Unsmoothed</text>
<text transform="translate(1104.50,1421.00) scale(1,1.04)" font-family="'Liberation Sans', Arial, 'DejaVu Sans', sans-serif" font-size="32" fill="#000" >Sampling 96kHz</text>
<text transform="translate(1361.50,1421.00) scale(1,1.04)" font-family="'Liberation Sans', Arial, 'DejaVu Sans', sans-serif" font-size="32" fill="#000" >Stepped</text>
<text transform="translate(1513.50,1421.00) scale(1,1.04)" font-family="'Liberation Sans', Arial, 'DejaVu Sans', sans-serif" font-size="32" fill="#000" >Dist Rise [dB] 30.00</text>
<text transform="translate(147.00,1475.00) scale(1,1.04)" font-family="'Liberation Sans', Arial, 'DejaVu Sans', sans-serif" font-size="32" fill="#000" >File: кни 88.sin</text>
<text x="1820" y="146" font-family="'Liberation Serif', serif" font-weight="bold" font-size="33" fill="#000" text-anchor="middle">CLIO</text>
</g>
</svg>
</body></html>
